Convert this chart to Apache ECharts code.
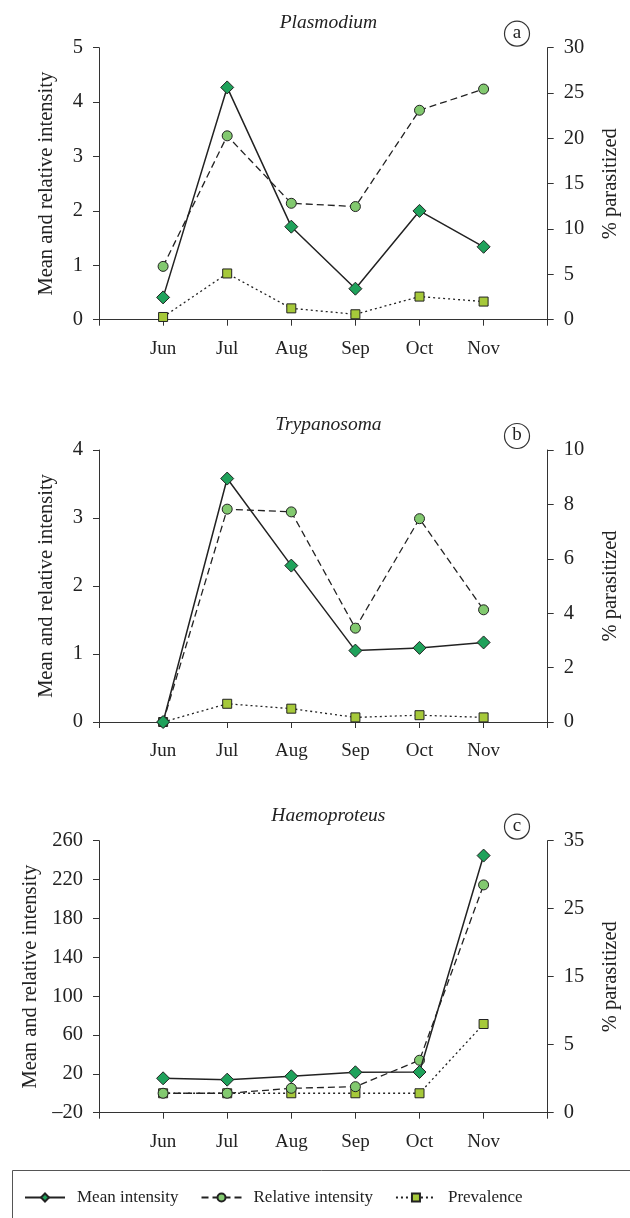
<!DOCTYPE html>
<html><head><meta charset="utf-8">
<script src="https://cdn.jsdelivr.net/npm/echarts@6/dist/echarts.min.js"></script>
<style>html,body{margin:0;padding:0;background:#fff}#c{width:630px;height:1218px}</style>
</head><body><div id="c"></div>
<script>
const months = ['Jun','Jul','Aug','Sep','Oct','Nov'];
const panelTitles = ['Plasmodium','Trypanosoma','Haemoproteus'];
const panelTags = ['a','b','c'];
const seriesNames = ['Mean intensity','Relative intensity','Prevalence'];

// Panel a – Plasmodium
const plasMean = [0.41, 4.27, 1.71, 0.57, 2.00, 1.34];
const plasRel  = [0.98, 3.38, 2.14, 2.08, 3.85, 4.24];
const plasPrev = [0.3, 5.1, 1.25, 0.6, 2.55, 2.0];      // % parasitized
// Panel b – Trypanosoma
const trypMean = [0, 3.58, 2.30, 1.05, 1.09, 1.17];
const trypRel  = [0, 3.13, 3.09, 1.38, 2.99, 1.65];
const trypPrev = [0, 0.67, 0.49, 0.17, 0.25, 0.17];    // % parasitized
// Panel c – Haemoproteus
const haemMean = [15.4, 14.0, 17.5, 21.6, 21.9, 244.7];
const haemRel  = [0, 0, 5.1, 6.8, 34.0, 214.5];
const haemPrev = [0, 0, 0, 0, 0, 71.3];                // drawn on the left scale in the source

// Axis ranges [min, max, interval]
const leftRanges  = [[0, 5, 1], [0, 4, 1], [-20, 260, 40]];
const rightRanges = [[0, 30, 5], [0, 10, 2], [-5, 35, 10]];
const rightLabelFix = {'-5': '0'};   // panel c right axis: lowest tick printed as 0

const panels = [
  {mean: plasMean, rel: plasRel, prev: plasPrev, prevAxis: 1},
  {mean: trypMean, rel: trypRel, prev: trypPrev, prevAxis: 1},
  {mean: haemMean, rel: haemRel, prev: haemPrev, prevAxis: 0}
];

const FONT = 'Liberation Serif';
const tops = [47.7, 450, 840.7];
const gridH = 272;
const gL = 99, gR = 82.3;
const axisColor = '#333';

const toXY = arr => arr.map((v, i) => [i + 1, v]);
const fmtNum = v => (v < 0 ? '\u2013' + Math.abs(v) : String(v));

const grid = [], xAxis = [], yAxis = [], series = [], title = [], graphic = [];
panels.forEach((p, k) => {
  grid.push({left: gL, right: gR, top: tops[k], height: gridH});
  xAxis.push({
    type: 'value', gridIndex: k, min: 0, max: 7, interval: 1,
    axisLine: {onZero: false, lineStyle: {color: axisColor, width: 1}},
    axisTick: {length: 6, lineStyle: {color: axisColor}},
    splitLine: {show: false},
    axisLabel: {
      margin: 20, fontFamily: FONT, fontSize: 19, color: '#222',
      formatter: v => months[v - 1] || ''
    }
  });
  const L = leftRanges[k], R = rightRanges[k];
  yAxis.push({
    type: 'value', gridIndex: k, position: 'left', min: L[0], max: L[1], interval: L[2],
    name: 'Mean and relative intensity', nameLocation: 'middle', nameGap: 42,
    nameTextStyle: {fontFamily: FONT, fontSize: 20.5, color: '#222'},
    axisLine: {show: true, onZero: false, lineStyle: {color: axisColor, width: 1}},
    axisTick: {show: true, length: 6, lineStyle: {color: axisColor}},
    splitLine: {show: false},
    axisLabel: {margin: 16, fontFamily: FONT, fontSize: 20.5, color: '#222', formatter: fmtNum}
  });
  yAxis.push({
    type: 'value', gridIndex: k, position: 'right', min: R[0], max: R[1], interval: R[2],
    name: '% parasitized', nameLocation: 'middle', nameGap: 52,
    nameTextStyle: {fontFamily: FONT, fontSize: 20.5, color: '#222'},
    axisLine: {show: true, onZero: false, lineStyle: {color: axisColor, width: 1}},
    axisTick: {show: true, length: 6, lineStyle: {color: axisColor}},
    splitLine: {show: false},
    axisLabel: {margin: 16, fontFamily: FONT, fontSize: 20.5, color: '#222',
      formatter: v => (rightLabelFix[String(v)] !== undefined ? rightLabelFix[String(v)] : fmtNum(v))}
  });
  const ly = 2 * k, ry = 2 * k + 1;
  series.push({
    name: seriesNames[2], type: 'line', xAxisIndex: k, yAxisIndex: p.prevAxis ? ry : ly,
    data: toXY(p.prev), symbol: 'rect', symbolSize: 9, z: 2,
    lineStyle: {color: '#222', width: 1.3, type: [2, 3]},
    itemStyle: {color: '#a6c93a', borderColor: '#222', borderWidth: 1}
  });
  series.push({
    name: seriesNames[1], type: 'line', xAxisIndex: k, yAxisIndex: ly,
    data: toXY(p.rel), symbol: 'circle', symbolSize: 10, z: 3,
    lineStyle: {color: '#222', width: 1.3, type: [7, 4]},
    itemStyle: {color: '#82c96f', borderColor: '#222', borderWidth: 1}
  });
  series.push({
    name: seriesNames[0], type: 'line', xAxisIndex: k, yAxisIndex: ly,
    data: toXY(p.mean), symbol: 'diamond', symbolSize: 13, z: 4,
    lineStyle: {color: '#222', width: 1.5, type: 'solid'},
    itemStyle: {color: '#1fa25b', borderColor: '#222', borderWidth: 1}
  });
  title.push({
    text: panelTitles[k], left: 323.4, top: tops[k] - 40, textAlign: 'center',
    textStyle: {fontFamily: FONT, fontSize: 19.5, fontStyle: 'italic', fontWeight: 'normal', color: '#222'}
  });
  graphic.push({
    type: 'circle', shape: {cx: 517, cy: tops[k] - 14, r: 12.5},
    style: {fill: '#fff', stroke: '#333', lineWidth: 1.2}
  });
  graphic.push({
    type: 'text', x: 517, y: tops[k] - 15,
    style: {text: panelTags[k], fontFamily: FONT, fontSize: 19, fill: '#222', align: 'center', verticalAlign: 'middle'}
  });
});

graphic.push({
  type: 'rect', shape: {x: 12.5, y: 1170.5, width: 640, height: 80},
  style: {fill: 'none', stroke: '#555', lineWidth: 1}, z: -1
});

const chart = echarts.init(document.getElementById('c'), null, {renderer: 'canvas'});
chart.setOption({
  backgroundColor: '#fff',
  animation: false,
  title, grid, xAxis, yAxis, series, graphic,
  legend: {
    data: seriesNames, left: 19, top: 1184, itemWidth: 40, itemHeight: 10, itemGap: 22,
    textStyle: {fontFamily: FONT, fontSize: 17, color: '#222', padding: [0, 0, 0, 7]}
  }
});
</script></body></html>
